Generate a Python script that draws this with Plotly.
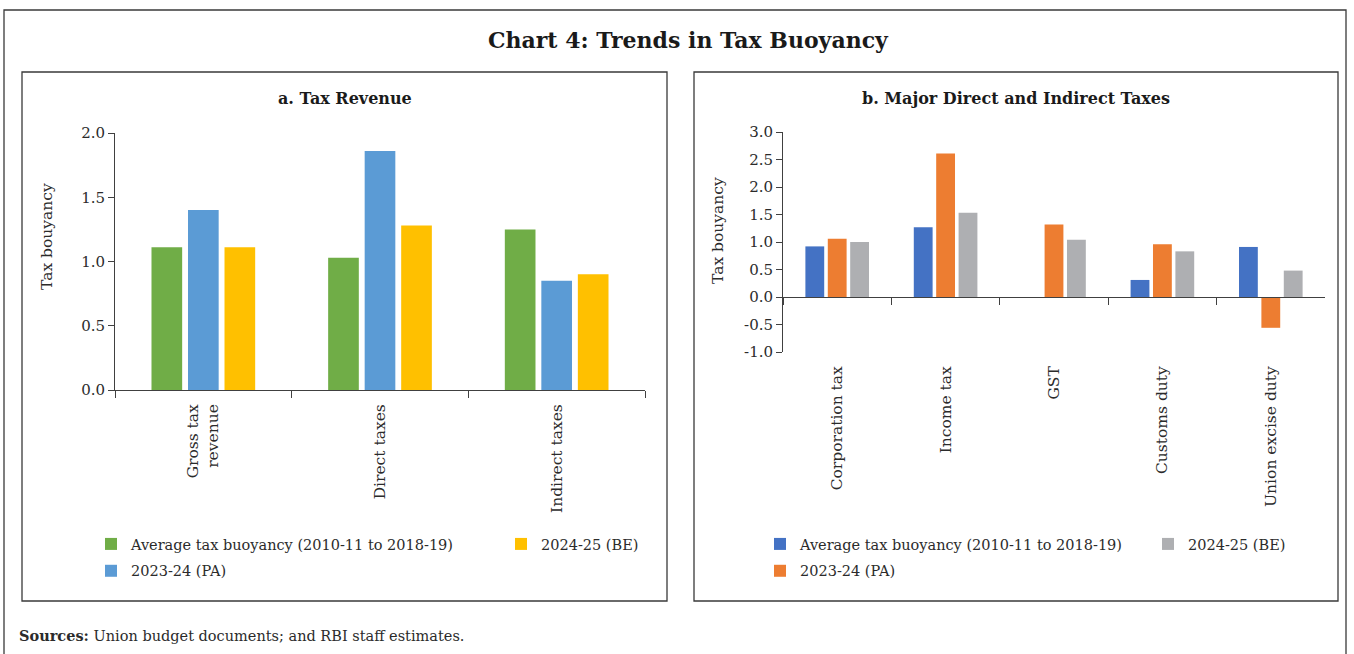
import plotly.graph_objects as go

# ---------------- data ----------------
categories_a = ["Gross tax<br>revenue", "Direct taxes", "Indirect taxes"]
avg_a = [1.11, 1.03, 1.25]
pa_a = [1.40, 1.86, 0.85]
be_a = [1.11, 1.28, 0.90]

categories_b = ["Corporation tax", "Income tax", "GST", "Customs duty", "Union excise duty"]
avg_b = [0.92, 1.27, None, 0.31, 0.91]
pa_b = [1.06, 2.61, 1.32, 0.96, -0.56]
be_b = [1.00, 1.53, 1.04, 0.83, 0.48]

series_names = ["Average tax buoyancy (2010-11 to 2018-19)", "2023-24 (PA)", "2024-25 (BE)"]

ticks_a = [0.0, 0.5, 1.0, 1.5, 2.0]
ticktext_a = ["0.0", "0.5", "1.0", "1.5", "2.0"]
ticks_b = [-1.0, -0.5, 0.0, 0.5, 1.0, 1.5, 2.0, 2.5, 3.0]
ticktext_b = ["-1.0", "-0.5", "0.0", "0.5", "1.0", "1.5", "2.0", "2.5", "3.0"]
y_title = "Tax bouyancy"

# ---------------- styling ----------------
W, H = 1354, 654
FONT = "DejaVu Serif"
TXT = "#2b2b2b"
AX = "#404040"
colors_a = ["#70AD47", "#5B9BD5", "#FFC000"]
colors_b = ["#4472C4", "#ED7D31", "#AEAFB2"]


def X(px):
    return px / W


def Y(py):
    return 1 - py / H


fig = go.Figure()

legends_a = ["legend", "legend", "legend2"]
legends_b = ["legend3", "legend3", "legend4"]
for name, vals, col, lg, i in zip(series_names, [avg_a, pa_a, be_a], colors_a, legends_a, range(3)):
    fig.add_trace(go.Bar(x=categories_a, y=vals, name=name, marker=dict(color=col, line=dict(width=0)),
                         xaxis="x", yaxis="y", legend=lg, legendgroup="a%d" % i))
for name, vals, col, lg, i in zip(series_names, [avg_b, pa_b, be_b], colors_b, legends_b, range(3)):
    fig.add_trace(go.Bar(x=categories_b, y=vals, name=name, marker=dict(color=col, line=dict(width=0)),
                         xaxis="x2", yaxis="y2", legend=lg, legendgroup="b%d" % i))

axis_common = dict(showgrid=False, zeroline=False, linecolor=AX, linewidth=1, ticks="outside",
                   tickcolor=AX, automargin=False)
tickfont_y = dict(family=FONT, size=15, color=TXT)
tickfont_x = dict(family=FONT, size=15.5, color=TXT)

fig.update_layout(
    width=W, height=H, margin=dict(l=0, r=0, t=0, b=0, pad=0, autoexpand=False),
    paper_bgcolor="white", plot_bgcolor="white",
    font=dict(family=FONT, color=TXT),
    barmode="group", bargap=0.38, bargroupgap=0.16,
    xaxis=dict(domain=[X(115), X(645)], anchor="y", type="category", showline=True,
               tickson="boundaries", ticklen=7, tickangle=-90, ticklabelstandoff=7,
               tickfont=tickfont_x, **axis_common),
    yaxis=dict(domain=[Y(390), Y(133)], anchor="x", range=[0, 2.0], showline=True,
               tickvals=ticks_a, ticktext=ticktext_a, ticklen=6, tickfont=tickfont_y,
               **axis_common),
    xaxis2=dict(domain=[X(783), X(1325)], anchor="free", position=Y(297), type="category",
                showline=True, tickson="boundaries", ticklen=7, tickangle=-90,
                ticklabelstandoff=62, tickfont=tickfont_x, **axis_common),
    yaxis2=dict(domain=[Y(352), Y(132)], anchor="x2", range=[-1.0, 3.0], showline=True,
                tickvals=ticks_b, ticktext=ticktext_b, ticklen=6, tickfont=tickfont_y,
                **axis_common),
    showlegend=True,
)

legend_common = dict(orientation="v", xanchor="left", yanchor="top", bgcolor="rgba(0,0,0,0)",
                     font=dict(family=FONT, size=14.5, color=TXT), tracegroupgap=5, itemclick=False)
fig.update_layout(
    legend=dict(x=X(91), y=Y(528), **legend_common),
    legend2=dict(x=X(501), y=Y(528), **legend_common),
    legend3=dict(x=X(760), y=Y(528), **legend_common),
    legend4=dict(x=X(1148), y=Y(528), **legend_common),
)

# borders
line = dict(color="#3a3a3a", width=1.3)
fig.add_shape(type="rect", xref="paper", yref="paper", x0=X(4), x1=X(1346), y0=Y(680), y1=Y(10), line=line)
fig.add_shape(type="rect", xref="paper", yref="paper", x0=X(22), x1=X(667), y0=Y(601), y1=Y(72), line=line)
fig.add_shape(type="rect", xref="paper", yref="paper", x0=X(694), x1=X(1338), y0=Y(601), y1=Y(72), line=line)

# axis titles
fig.add_annotation(text=y_title, x=X(47), y=Y(237), xref="paper", yref="paper", showarrow=False,
                   textangle=-90, xanchor="center", yanchor="middle",
                   font=dict(family=FONT, size=15.5, color=TXT))
fig.add_annotation(text=y_title, x=X(718), y=Y(231), xref="paper", yref="paper", showarrow=False,
                   textangle=-90, xanchor="center", yanchor="middle",
                   font=dict(family=FONT, size=15.5, color=TXT))

# titles
fig.add_annotation(text="<b>Chart 4: Trends in Tax Buoyancy</b>", x=X(688), y=Y(40), xref="paper", yref="paper",
                   showarrow=False, xanchor="center", yanchor="middle",
                   font=dict(family=FONT, size=22, color="#1a1a1a"))
fig.add_annotation(text="<b>a. Tax Revenue</b>", x=X(345), y=Y(99), xref="paper", yref="paper",
                   showarrow=False, xanchor="center", yanchor="middle",
                   font=dict(family=FONT, size=16, color="#1a1a1a"))
fig.add_annotation(text="<b>b. Major Direct and Indirect Taxes</b>", x=X(1016), y=Y(99), xref="paper", yref="paper",
                   showarrow=False, xanchor="center", yanchor="middle",
                   font=dict(family=FONT, size=16, color="#1a1a1a"))
fig.add_annotation(text="<b>Sources:</b> Union budget documents; and RBI staff estimates.", x=X(17), y=Y(635),
                   xref="paper", yref="paper", showarrow=False, xanchor="left", yanchor="middle",
                   font=dict(family=FONT, size=14.5, color=TXT))

page = """
document.documentElement.style.margin='0';document.documentElement.style.padding='0';
document.body.style.margin='0';document.body.style.padding='0';
document.body.style.overflow='hidden';document.documentElement.style.overflow='hidden';
"""

fig.write_html("out.html", config={"displayModeBar": False}, post_script=page)
